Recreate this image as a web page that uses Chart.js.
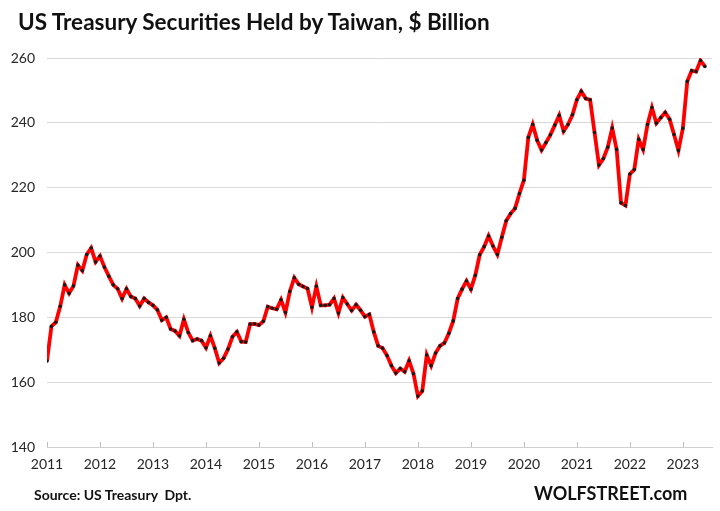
<!DOCTYPE html>
<html>
<head>
<meta charset="utf-8">
<script src="https://cdn.jsdelivr.net/npm/chart.js@4/dist/chart.umd.min.js"></script>
<style>
  html, body { margin: 0; padding: 0; background: #fff; }
  #wrap { position: relative; width: 720px; height: 511px; }
  #title { position: absolute; left: 18px; top: 8px; font: bold 22.5px Lato, "Open Sans", sans-serif; color: #111; white-space: nowrap; letter-spacing: 0px; }
  #src { position: absolute; left: 34px; top: 486px; font: bold 14px Lato, sans-serif; color: #111; white-space: pre; }
  #brand { position: absolute; left: 534px; top: 482px; font: bold 18px Lato, sans-serif; color: #111; white-space: nowrap; }
  canvas { position: absolute; left: 0; top: 0; }
</style>
</head>
<body>
<div id="wrap">
  <canvas id="c" width="720" height="511"></canvas>
  <div id="title">US Treasury Securities Held by Taiwan, $ Billion</div>
  <div id="src">Source: US Treasury  Dpt.</div>
  <div id="brand">WOLFSTREET.com</div>
</div>
<script>
// Monthly holdings, Jan 2011 .. Jun 2023, $ billion
const values2011_2014 = [166.5,177.2,178.5,183.4,190.0,187.4,189.7,196.1,194.4,199.4,201.4,197.1,
  198.9,195.5,192.7,190.0,188.8,185.8,188.8,186.4,185.8,183.5,185.8,184.6,
  183.7,182.3,179.1,180.0,176.4,175.8,174.3,179.4,175.3,172.8,173.3,172.8,
  170.6,174.3,170.5,165.9,167.4,170.2,174.0,175.5,172.5,172.4,177.9,178.0];
const values2015_2018 = [177.6,178.8,183.3,182.8,182.5,185.4,181.5,188.0,192.2,190.2,189.5,188.9,
  183.1,189.6,183.7,183.7,183.9,185.8,181.3,186.1,184.1,182.1,183.9,182.2,
  180.2,180.9,175.5,171.2,170.5,168.2,165.1,162.8,164.2,163.2,166.6,162.6,
  155.7,157.3,168.4,165.1,169.0,171.2,172.1,175.1,178.9,185.8,188.7,191.2];
const values2019_2023 = [188.7,193.0,199.3,201.8,205.1,202.0,199.4,204.7,209.8,212.0,213.6,218.2,
  222.3,235.5,239.5,234.6,231.6,233.9,236.3,239.3,242.3,237.4,239.5,242.5,
  247.1,249.7,247.5,247.1,237.0,227.0,229.0,232.5,238.4,231.8,215.3,214.5,
  224.2,225.6,234.9,231.8,239.5,244.7,239.9,241.6,243.2,241.1,236.4,231.5,
  238.3,252.8,256.1,255.8,259.2,257.4];
const holdings = values2011_2014.concat(values2015_2018, values2019_2023);
const yearLabels = ["2011","2012","2013","2014","2015","2016","2017","2018","2019","2020","2021","2022","2023"];
const yTicks = [140,160,180,200,220,240,260];

const points = holdings.map((v, i) => ({ x: i, y: v }));

const insideTicks = {
  id: 'insideTicks',
  afterDraw(chart) {
    const ctx = chart.ctx, xs = chart.scales.x, bottom = chart.chartArea.bottom;
    ctx.save();
    ctx.strokeStyle = '#bfbfbf';
    ctx.lineWidth = 1;
    yearLabels.forEach((_, k) => {
      const px = Math.round(xs.getPixelForValue(k * 12)) + 0.5;
      ctx.beginPath(); ctx.moveTo(px, bottom); ctx.lineTo(px, bottom - 5); ctx.stroke();
    });
    ctx.restore();
  }
};

new Chart(document.getElementById('c'), {
  type: 'line',
  data: {
    datasets: [{
      data: points,
      borderColor: '#ff0000',
      borderWidth: 3.8,
      pointRadius: 1.8,
      pointBackgroundColor: '#1a1a1a',
      pointBorderWidth: 0,
      tension: 0,
      fill: false
    }]
  },
  options: {
    responsive: false,
    animation: false,
    events: [],
    layout: { padding: { top: 58, right: 8, bottom: 34, left: 0 } },
    plugins: { legend: { display: false }, tooltip: { enabled: false } },
    scales: {
      x: {
        type: 'linear',
        min: 0,
        max: 150.6,
        afterBuildTicks(scale) { scale.ticks = yearLabels.map((_, k) => ({ value: k * 12 })); },
        afterFit(scale) { scale.height = 30; },
        ticks: {
          autoSkip: false,
          maxRotation: 0,
          padding: 9,
          color: '#262626',
          font: { family: 'Lato, sans-serif', size: 14 },
          callback(v) { return yearLabels[Math.round(v / 12)]; }
        },
        grid: { display: false, drawTicks: false },
        border: { display: true, color: '#d0d0d0', width: 1 }
      },
      y: {
        min: 140,
        max: 260,
        afterBuildTicks(scale) { scale.ticks = yTicks.map(v => ({ value: v })); },
        afterFit(scale) { scale.width = 47; },
        ticks: {
          padding: 12,
          color: '#262626',
          font: { family: 'Lato, sans-serif', size: 14 }
        },
        grid: { color: '#d9d9d9', lineWidth: 1, drawTicks: false },
        border: { display: false }
      }
    }
  },
  plugins: [insideTicks]
});
</script>
</body>
</html>
